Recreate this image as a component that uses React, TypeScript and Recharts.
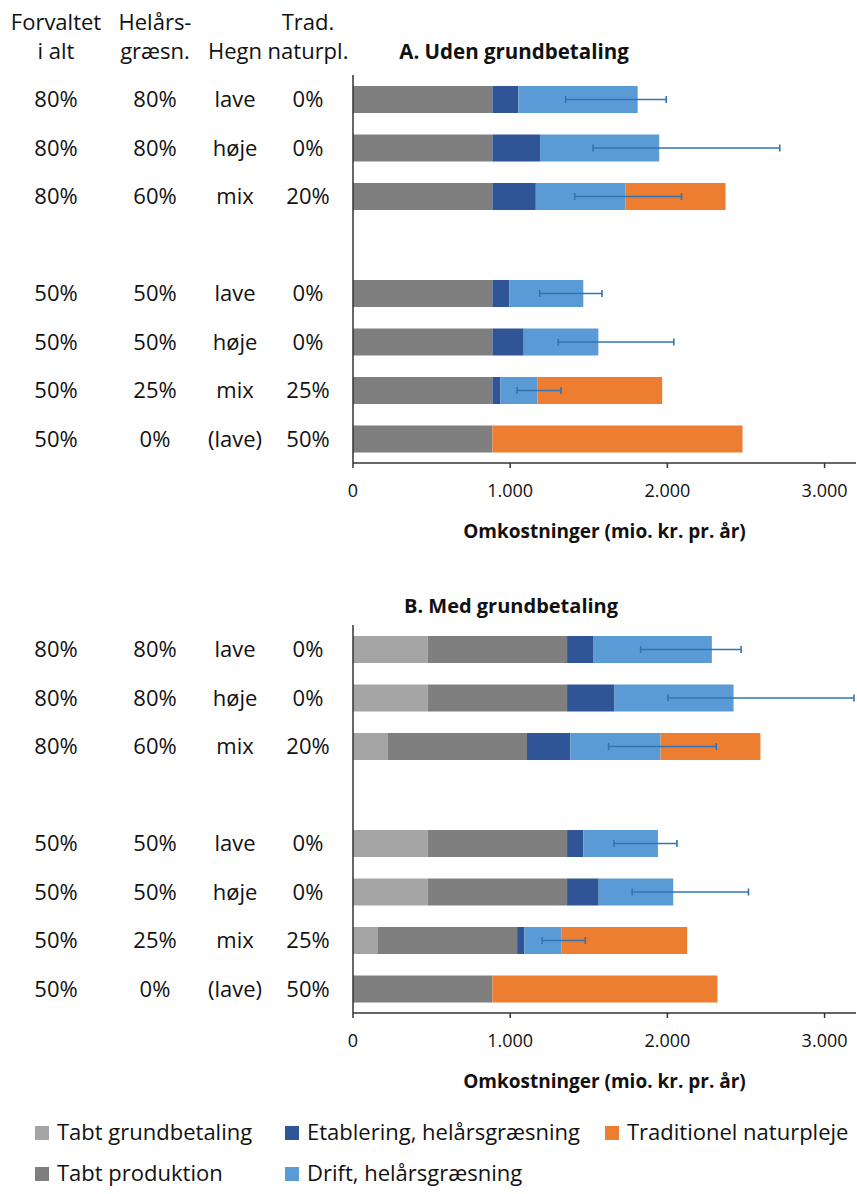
import React from 'react';
import { BarChart, Bar, XAxis, YAxis, ErrorBar } from 'recharts';

const FONT = "'Open Sans', sans-serif";

// Row categories (top to bottom), incl. an empty spacer row
const rowIds = ['r1', 'r2', 'r3', 'gap', 'r4', 'r5', 'r6', 'r7'];
const forvaltet = ['80%', '80%', '80%', '', '50%', '50%', '50%', '50%'];
const helaars = ['80%', '80%', '60%', '', '50%', '50%', '25%', '0%'];
const hegn = ['lave', 'høje', 'mix', '', 'lave', 'høje', 'mix', '(lave)'];
const tradPct = ['0%', '0%', '20%', '', '0%', '0%', '25%', '50%'];

const seriesKeys = ['grund', 'prod', 'etab', 'drift', 'trad'];
const seriesNames = [
  'Tabt grundbetaling',
  'Tabt produktion',
  'Etablering, helårsgræsning',
  'Drift, helårsgræsning',
  'Traditionel naturpleje',
];
const seriesColors = ['#a5a5a5', '#7f7f7f', '#2f5597', '#5b9bd5', '#ed7d31'];

// Panel A: Uden grundbetaling (mio. kr. pr. år)
const aGrund = [0, 0, 0, null, 0, 0, 0, 0];
const aProd = [887, 887, 887, null, 887, 887, 887, 887];
const aEtab = [165, 303, 276, null, 108, 199, 51, 0];
const aDrift = [759, 758, 571, null, 470, 475, 235, 0];
const aTrad = [0, 0, 636, null, 0, 0, 794, 1591];
const aErrMinus = [458, 421, 324, null, 277, 255, 129, 0];
const aErrPlus = [182, 767, 356, null, 119, 480, 150, 0];

// Panel B: Med grundbetaling
const bGrund = [476, 476, 222, null, 476, 476, 159, 0];
const bProd = [886, 886, 885, null, 886, 886, 885, 887];
const bEtab = [165, 302, 276, null, 103, 201, 46, 0];
const bDrift = [756, 757, 574, null, 475, 474, 235, 0];
const bTrad = [0, 0, 635, null, 0, 0, 801, 1432];
const bErrMinus = [453, 418, 331, null, 280, 261, 122, 0];
const bErrPlus = [186, 766, 354, null, 121, 479, 153, 0];

const xTicks = [0, 1000, 2000, 3000];
const xTickLabels = ['0', '1.000', '2.000', '3.000'];
const xDomain = [0, 3200];
const axisTitle = 'Omkostninger (mio. kr. pr. år)';

function buildData(g, p, e, d, t, em, ep) {
  return rowIds.map((id, i) => ({
    id,
    grund: g[i],
    prod: p[i],
    etab: e[i],
    drift: d[i],
    trad: t[i],
    err: em[i] == null ? null : [em[i], ep[i]],
  }));
}

const dataA = buildData(aGrund, aProd, aEtab, aDrift, aTrad, aErrMinus, aErrPlus);
const dataB = buildData(bGrund, bProd, bEtab, bDrift, bTrad, bErrMinus, bErrPlus);

const colX = [56, 155, 235, 308];

function YTick(props: any) {
  const { y, payload } = props;
  const i = rowIds.indexOf(payload.value);
  if (i < 0) return null;
  const labels = [forvaltet[i], helaars[i], hegn[i], tradPct[i]];
  return (
    <g>
      {labels.map((l, k) => (
        <text
          key={k}
          x={colX[k]}
          y={y + 8}
          textAnchor="middle"
          fontFamily={FONT}
          fontSize={22}
          fill="#111"
        >
          {l}
        </text>
      ))}
    </g>
  );
}

function Panel({ data }: { data: any[] }) {
  return (
    <BarChart
      width={857}
      height={543}
      data={data}
      layout="vertical"
      margin={{ top: 75, right: 1, left: 0, bottom: 0 }}
    >
      <XAxis
        type="number"
        domain={xDomain}
        ticks={xTicks}
        interval={0}
        allowDataOverflow
        tickFormatter={(v: number) => xTickLabels[xTicks.indexOf(v)]}
        tick={{ fontSize: 18, fill: '#111', fontFamily: FONT }}
        tickSize={5}
        tickMargin={16}
        height={80}
        axisLine={{ stroke: '#333', strokeWidth: 1.5 }}
        tickLine={{ stroke: '#333', strokeWidth: 1.5 }}
        label={{
          value: axisTitle,
          position: 'insideBottom',
          offset: 5,
          fontSize: 19,
          fontWeight: 700,
          fill: '#111',
          fontFamily: FONT,
        }}
      />
      <YAxis
        type="category"
        dataKey="id"
        width={353}
        interval={0}
        tickLine={false}
        axisLine={{ stroke: '#333', strokeWidth: 1.5 }}
        tick={<YTick />}
      />
      {seriesKeys.map((k, i) => (
        <Bar
          key={k}
          dataKey={k}
          name={seriesNames[i]}
          stackId="s"
          fill={seriesColors[i]}
          barSize={27}
          isAnimationActive={false}
        >
          {k === 'drift' ? (
            <ErrorBar
              dataKey="err"
              direction="x"
              stroke="#2e75b6"
              strokeWidth={1.6}
              width={3.5}
              isAnimationActive={false}
            />
          ) : null}
        </Bar>
      ))}
    </BarChart>
  );
}

const legendOrder = [0, 2, 4, 1, 3];
const legendPos = [
  { x: 35, y: 1126 },
  { x: 285, y: 1126 },
  { x: 605, y: 1126 },
  { x: 35, y: 1167 },
  { x: 285, y: 1167 },
];

export default function App() {
  return (
    <div
      style={{
        position: 'absolute',
        left: 0,
        top: 0,
        width: 857,
        height: 1194,
        background: '#fff',
        fontFamily: FONT,
      }}
    >
      <div style={{ position: 'absolute', left: 0, top: 0 }}>
        <Panel data={dataA} />
      </div>
      <div style={{ position: 'absolute', left: 0, top: 550 }}>
        <Panel data={dataB} />
      </div>
      <svg
        width={857}
        height={1194}
        style={{ position: 'absolute', left: 0, top: 0, pointerEvents: 'none' }}
      >
        <g fontFamily={FONT} fontSize={22} fill="#111" textAnchor="middle">
          <text x={colX[0]} y={30}>Forvaltet</text>
          <text x={colX[0]} y={59}>i alt</text>
          <text x={colX[1]} y={30}>Helårs-</text>
          <text x={colX[1]} y={59}>græsn.</text>
          <text x={colX[2]} y={59}>Hegn</text>
          <text x={colX[3]} y={30}>Trad.</text>
          <text x={colX[3]} y={59}>naturpl.</text>
        </g>
        <text x={514} y={59} textAnchor="middle" fontFamily={FONT} fontSize={20.5} fontWeight={700} fill="#111">
          A. Uden grundbetaling
        </text>
        <text x={511} y={613} textAnchor="middle" fontFamily={FONT} fontSize={20} fontWeight={700} fill="#111">
          B. Med grundbetaling
        </text>
        {legendOrder.map((si, k) => (
          <g key={si}>
            <rect x={legendPos[k].x} y={legendPos[k].y} width={14} height={14} fill={seriesColors[si]} />
            <text
              x={legendPos[k].x + 22}
              y={legendPos[k].y + 14}
              fontFamily={FONT}
              fontSize={22}
              fill="#111"
            >
              {seriesNames[si]}
            </text>
          </g>
        ))}
      </svg>
    </div>
  );
}
